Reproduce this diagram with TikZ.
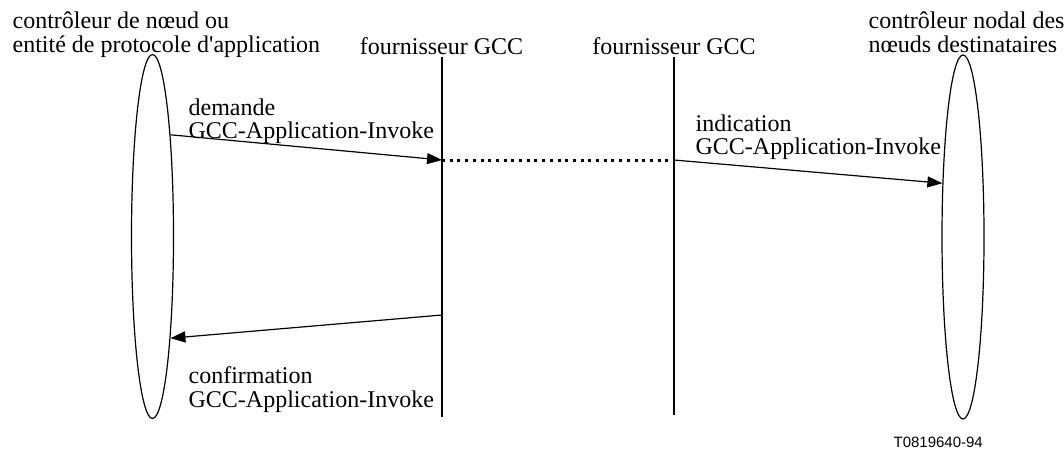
\documentclass[tikz,border=0pt]{standalone}
\usepackage{fontspec}
\setmainfont{Liberation Serif}
\newfontfamily\refsans{Liberation Sans}
\usetikzlibrary{arrows.meta,shapes.geometric}

\begin{document}
\begin{tikzpicture}[x=1pt,y=-1pt,
  line width=1.2pt,
  entity/.style={ellipse,draw,inner sep=0pt,minimum width=42pt,minimum height=364pt},
  lifeline/.style={line width=1.2pt},
  msg/.style={-{Triangle[length=15pt,width=11pt]}},
  relay/.style={line width=3pt,line cap=butt,dash pattern=on 3pt off 4.7pt},
  lbl/.style={inner sep=0pt,anchor=base west,align=left,
    font=\fontsize{24}{23.5}\selectfont},
  title/.style={inner sep=0pt,anchor=base,
    font=\fontsize{24}{23.5}\selectfont}]
\useasboundingbox (0,0) rectangle (1064,450);

% end entities
\node[entity] (L) at (152.5,236.5) {};
\node[entity] (R) at (963,237) {};

% GCC provider lifelines
\coordinate (P1t) at (442,57);
\coordinate (P1b) at (442,417);
\coordinate (P2t) at (674,57);
\coordinate (P2b) at (674,415);
\draw[lifeline] (P1t) -- (P1b);
\draw[lifeline] (P2t) -- (P2b);

% message points on the lifelines
\coordinate (P1req) at (442,160);
\coordinate (P2ind) at (674,160);
\coordinate (P1cnf) at (442,315);

% titles (anchored at the baseline of their last line)
\node[lbl] (tL) at (12,52) {contrôleur de nœud ou\\entité de protocole d\textquotesingle application};
\node[lbl] (tR) at (868,52) {contrôleur nodal des\\nœuds destinataires};
\node[title] (tP1) at (441.5,54) {fournisseur GCC};
\node[title] (tP2) at (674,54) {fournisseur GCC};

% primitives
\draw[msg] (L.80.3) -- (P1req);
\draw[relay] (P1req) -- (P2ind);
\draw[msg] (P2ind) -- (R.111.6);
\draw[msg] (P1cnf) -- (L.-80.5);

\node[lbl] (m1) at (188,138.5) {demande\\GCC-Application-Invoke};
\node[lbl] (m2) at (695,154.5) {indication\\GCC-Application-Invoke};
\node[lbl] (m3) at (188,407) {confirmation\\GCC-Application-Invoke};

\node[inner sep=0pt,anchor=base west,font=\refsans\fontsize{15}{15}\selectfont] (ref) at (893,447) {T0819640-94};
\end{tikzpicture}
\end{document}
